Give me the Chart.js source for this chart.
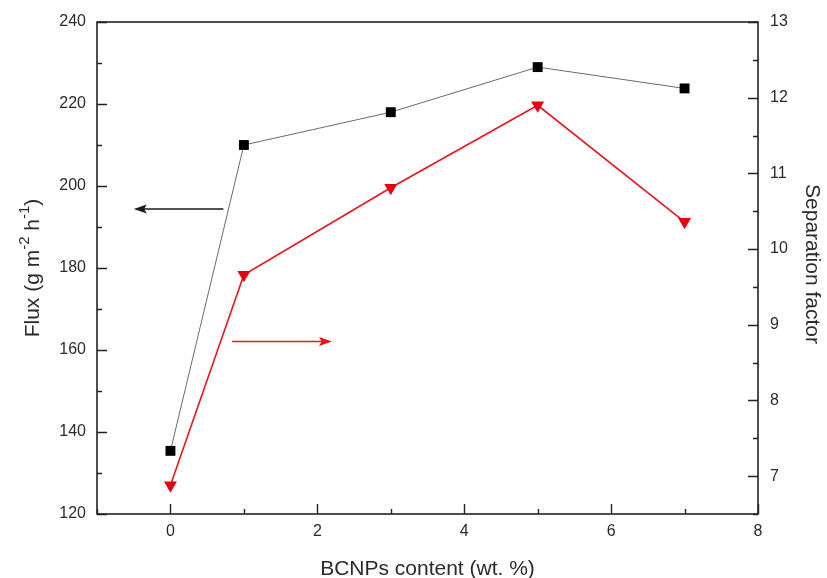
<!DOCTYPE html>
<html>
<head>
<meta charset="utf-8">
<title>Flux and separation factor vs BCNPs content</title>
<script src="https://cdn.jsdelivr.net/npm/chart.js@4.4.1/dist/chart.umd.min.js"></script>
<style>
  html, body { margin: 0; padding: 0; background: #ffffff; }
  #wrap { width: 827px; height: 578px; }
</style>
</head>
<body>
<div id="wrap"><canvas id="chart" width="827" height="578"></canvas></div>
<script>
// BCNPs loading (wt. %)
const contents = [0, 1, 3, 5, 7];
// Permeation flux (g m-2 h-1), left axis
const flux = [135.4, 210, 218, 229, 223.8];
// Separation factor, right axis
const separation = [6.88, 9.66, 10.81, 11.9, 10.36];

// Axis ranges
const xRange = [-1, 8];
const fluxRange = [120, 240];
const sepRange = [6.5, 13];

// Arrows pointing each curve to its axis: [x0, x1, y] in data units
const fluxArrow = [0.72, -0.5, 194.4];
const sepArrow = [0.84, 2.2, 8.78];

const FONT = "'Liberation Sans', Arial, Helvetica, sans-serif";
const TEXT = '#2a2a2a';
const RED = 'rgb(232, 20, 30)';

const toPts = (xs, ys) => xs.map((x, i) => ({ x: x, y: ys[i] }));

function drawArrow(ctx, x0, x1, y, color) {
  const dir = Math.sign(x1 - x0);
  const head = 13, half = 4.5;
  ctx.save();
  ctx.strokeStyle = color;
  ctx.fillStyle = color;
  ctx.lineWidth = 1.5;
  ctx.beginPath();
  ctx.moveTo(x0, y);
  ctx.lineTo(x1 - dir * head * 0.6, y);
  ctx.stroke();
  ctx.beginPath();
  ctx.moveTo(x1, y);
  ctx.lineTo(x1 - dir * head, y - half);
  ctx.lineTo(x1 - dir * head * 0.8, y);
  ctx.lineTo(x1 - dir * head, y + half);
  ctx.closePath();
  ctx.fill();
  ctx.restore();
}

// Frame, inward tick marks, axis titles and arrows
const decor = {
  id: 'decor',
  afterDatasetsDraw(chart) {
    const ctx = chart.ctx;
    const a = chart.chartArea;
    const sx = chart.scales.x, sy = chart.scales.y, sr = chart.scales.y1;

    ctx.save();
    ctx.strokeStyle = '#222';
    ctx.lineWidth = 1.6;
    ctx.strokeRect(a.left, a.top, a.right - a.left, a.bottom - a.top);

    ctx.lineWidth = 1.4;
    ctx.beginPath();
    sx.ticks.forEach(t => {
      const p = Math.round(sx.getPixelForValue(t.value)) + 0.5;
      const len = (t.value % 2 === 0) ? 10 : 5;
      ctx.moveTo(p, a.bottom);
      ctx.lineTo(p, a.bottom - len);
    });
    sy.ticks.forEach(t => {
      const p = Math.round(sy.getPixelForValue(t.value)) + 0.5;
      const len = (t.value % 20 === 0) ? 10 : 5;
      ctx.moveTo(a.left, p);
      ctx.lineTo(a.left + len, p);
    });
    sr.ticks.forEach(t => {
      const p = Math.round(sr.getPixelForValue(t.value)) + 0.5;
      const len = Number.isInteger(t.value) ? 10 : 5;
      ctx.moveTo(a.right, p);
      ctx.lineTo(a.right - len, p);
    });
    ctx.stroke();

    // Arrows
    drawArrow(ctx, sx.getPixelForValue(fluxArrow[0]), sx.getPixelForValue(fluxArrow[1]),
      sy.getPixelForValue(fluxArrow[2]), '#1a1a1a');
    drawArrow(ctx, sx.getPixelForValue(sepArrow[0]), sx.getPixelForValue(sepArrow[1]),
      sr.getPixelForValue(sepArrow[2]), RED);

    // Axis titles
    ctx.fillStyle = TEXT;
    ctx.textBaseline = 'middle';
    ctx.textAlign = 'center';
    ctx.font = '21px ' + FONT;
    ctx.fillText('BCNPs content (wt. %)', (a.left + a.right) / 2, 569);

    ctx.save();
    ctx.translate(812, (a.top + a.bottom) / 2 - 4);
    ctx.rotate(Math.PI / 2);
    ctx.fillText('Separation factor', 0, 0);
    ctx.restore();

    // Left title with superscripts
    const parts = [
      { t: 'Flux (g m', sup: false },
      { t: '-2', sup: true },
      { t: ' h', sup: false },
      { t: '-1', sup: true },
      { t: ')', sup: false }
    ];
    const fMain = '21px ' + FONT, fSup = '15px ' + FONT;
    let total = 0;
    parts.forEach(p => { ctx.font = p.sup ? fSup : fMain; p.w = ctx.measureText(p.t).width; total += p.w; });
    ctx.save();
    ctx.translate(33, (a.top + a.bottom) / 2);
    ctx.rotate(-Math.PI / 2);
    ctx.textAlign = 'left';
    let cx = -total / 2;
    parts.forEach(p => {
      ctx.font = p.sup ? fSup : fMain;
      ctx.fillText(p.t, cx, p.sup ? -8 : 0);
      cx += p.w;
    });
    ctx.restore();
    ctx.restore();
  }
};

const tickFont = { family: FONT, size: 16 };

new Chart(document.getElementById('chart'), {
  type: 'line',
  data: {
    datasets: [
      {
        label: 'Flux',
        data: toPts(contents, flux),
        yAxisID: 'y',
        borderColor: '#6a6a6a',
        borderWidth: 1,
        pointStyle: 'rect',
        pointRadius: 7,
        pointBackgroundColor: '#000',
        pointBorderWidth: 0,
        tension: 0
      },
      {
        label: 'Separation factor',
        data: toPts(contents, separation),
        yAxisID: 'y1',
        borderColor: RED,
        borderWidth: 1.6,
        pointStyle: 'triangle',
        rotation: 180,
        pointRadius: 7.5,
        pointBackgroundColor: 'rgb(230, 0, 18)',
        pointBorderWidth: 0,
        tension: 0
      }
    ]
  },
  options: {
    responsive: false,
    animation: false,
    devicePixelRatio: 1,
    layout: { padding: { top: 22, left: 0, right: 0, bottom: 0 } },
    plugins: { legend: { display: false }, tooltip: { enabled: false } },
    scales: {
      x: {
        type: 'linear',
        min: xRange[0], max: xRange[1],
        grid: { display: false, drawTicks: false },
        border: { display: false },
        ticks: {
          stepSize: 1, autoSkip: false, maxRotation: 0, padding: 8,
          color: TEXT, font: tickFont,
          callback: v => (v % 2 === 0 ? String(v) : '')
        },
        afterFit: s => { s.height = 64; }
      },
      y: {
        position: 'left',
        min: fluxRange[0], max: fluxRange[1],
        grid: { display: false, drawTicks: false },
        border: { display: false },
        ticks: {
          stepSize: 10, autoSkip: false, padding: 11,
          color: TEXT, font: tickFont,
          callback: v => (v % 20 === 0 ? String(v) : '')
        },
        afterFit: s => { s.width = 97; }
      },
      y1: {
        position: 'right',
        min: sepRange[0], max: sepRange[1],
        grid: { display: false, drawTicks: false },
        border: { display: false },
        ticks: {
          stepSize: 0.5, autoSkip: false, padding: 12,
          color: TEXT, font: tickFont,
          callback: v => (Number.isInteger(v) ? String(v) : '')
        },
        afterFit: s => { s.width = 69; }
      }
    }
  },
  plugins: [decor]
});
</script>
</body>
</html>
